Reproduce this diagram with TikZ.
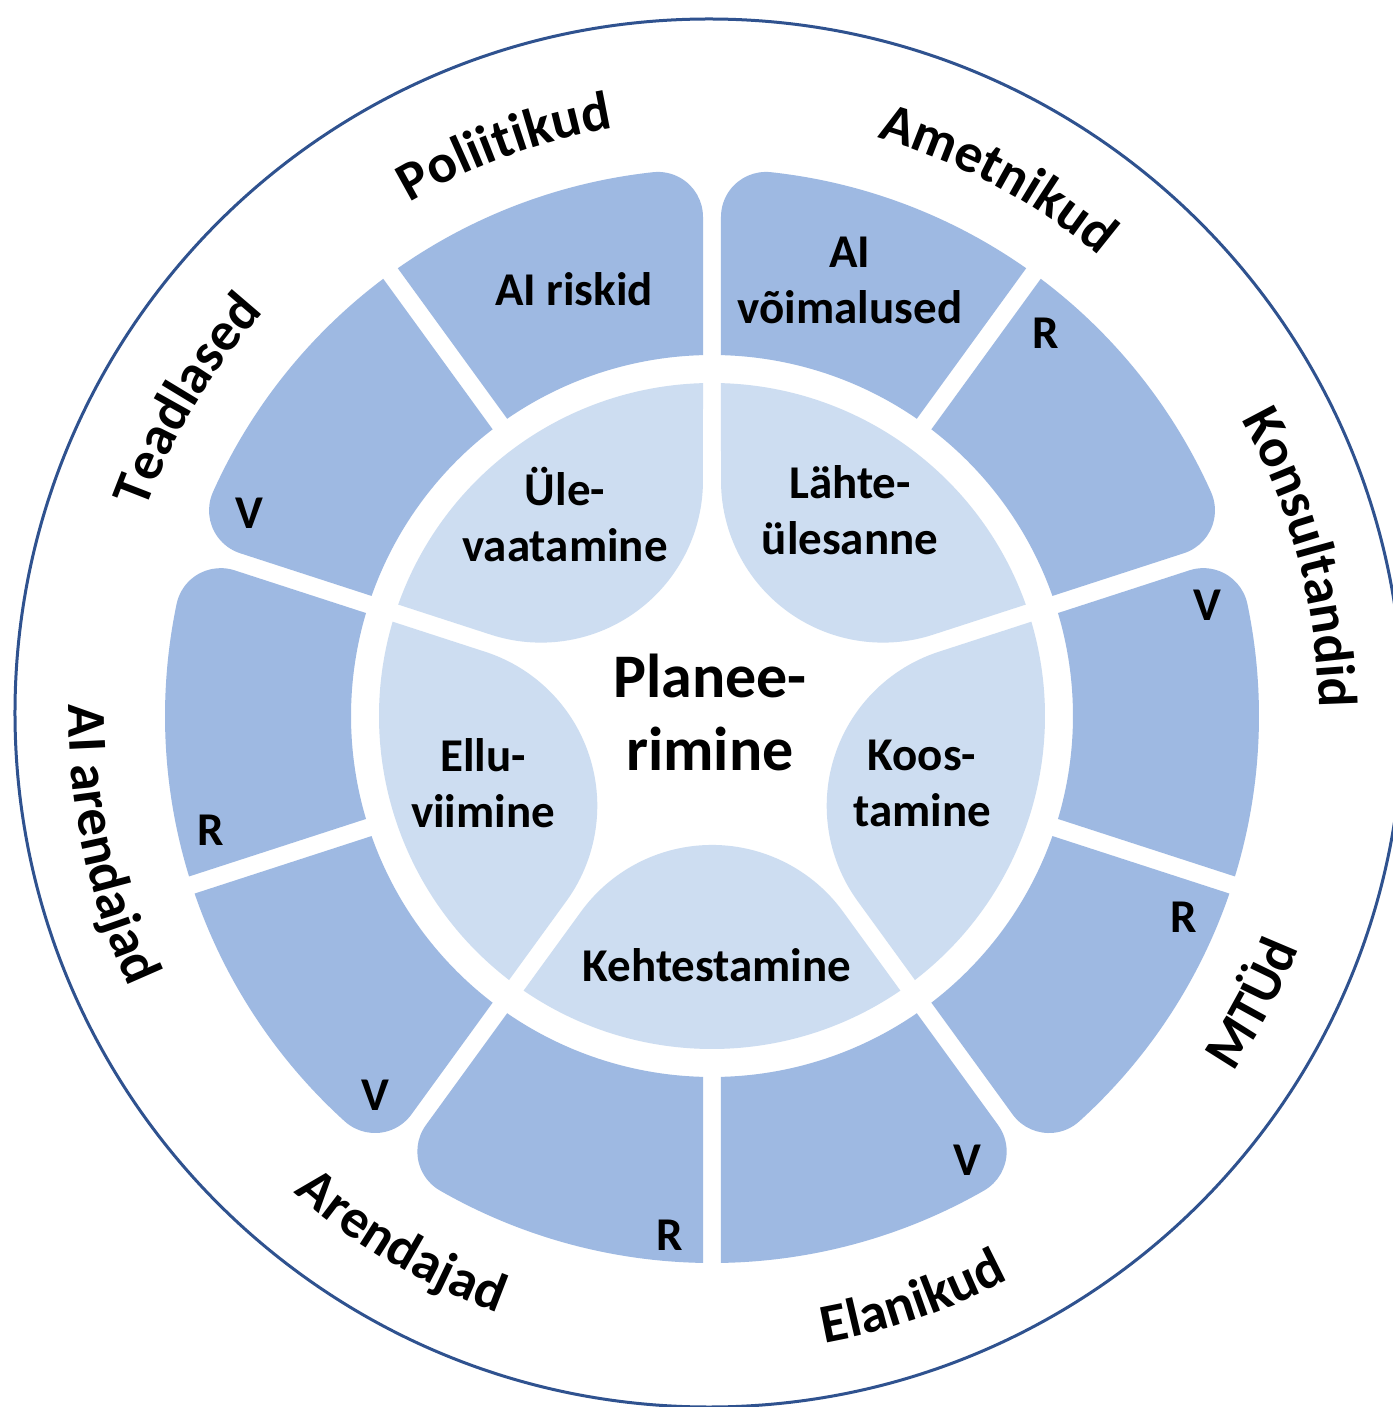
\documentclass[tikz,border=0pt]{standalone}
\usepackage{fontspec}
\setmainfont{Carlito}
\usetikzlibrary{decorations.text}
\definecolor{darkseg}{RGB}{158,185,226}
\definecolor{lightseg}{RGB}{205,221,241}
\definecolor{ringline}{RGB}{47,82,143}
\newcommand\segfont{\fontsize{47}{56}\selectfont\bfseries}
\newcommand\labfont{\fontsize{55}{66}\selectfont\bfseries}
\newcommand\ctrfont{\fontsize{62}{73}\selectfont\bfseries}
% dark segment [a,a+36], rounded outer corner at start edge
\newcommand\dsegStart[1]{%
  \pgfmathsetmacro\dsAin{#1+asin(9/361)}%
  \pgfmathsetmacro\dsBin{#1+36-asin(9/361)}%
  \pgfmathsetmacro\dsBout{#1+36-asin(9/547)}%
  \pgfmathsetmacro\dsPhi{#1+asin(54/502)}%
  \pgfmathsetmacro\dsAl{502*cos(asin(54/502))}%
  \pgfmathsetmacro\dsTx{\dsAl*cos(#1)-9*sin(#1)}%
  \pgfmathsetmacro\dsTy{\dsAl*sin(#1)+9*cos(#1)}%
  \pgfmathsetmacro\dsSt{#1-90}%
  \fill[darkseg] (\dsAin:361) -- (\dsTx,\dsTy)
    arc[start angle=\dsSt, end angle=\dsPhi, radius=45]
    arc[start angle=\dsPhi, end angle=\dsBout, radius=547]
    -- (\dsBin:361)
    arc[start angle=\dsBin, end angle=\dsAin, radius=361] -- cycle;
}
% dark segment [a,a+36], rounded outer corner at end edge
\newcommand\dsegEnd[1]{%
  \pgfmathsetmacro\dsAin{#1+asin(9/361)}%
  \pgfmathsetmacro\dsAout{#1+asin(9/547)}%
  \pgfmathsetmacro\dsBin{#1+36-asin(9/361)}%
  \pgfmathsetmacro\dsPhi{#1+36-asin(54/502)}%
  \pgfmathsetmacro\dsEn{#1+36+90}%
  \fill[darkseg] (\dsAin:361) -- (\dsAout:547)
    arc[start angle=\dsAout, end angle=\dsPhi, radius=547]
    arc[start angle=\dsPhi, end angle=\dsEn, radius=45]
    -- (\dsBin:361)
    arc[start angle=\dsBin, end angle=\dsAin, radius=361] -- cycle;
}
% light segment [a,a+72], inner apex rounded
\newcommand\lseg[1]{%
  \pgfmathsetmacro\lsAo{#1+asin(9/333)}%
  \pgfmathsetmacro\lsBo{#1+72-asin(9/333)}%
  \pgfmathsetmacro\lsDc{171/sin(36)*cos(36)}%
  \pgfmathsetmacro\lsTx{\lsDc*cos(#1+72)+9*sin(#1+72)}%
  \pgfmathsetmacro\lsTy{\lsDc*sin(#1+72)-9*cos(#1+72)}%
  \pgfmathsetmacro\lsS{#1+72+90}%
  \pgfmathsetmacro\lsE{#1+270}%
  \fill[lightseg] (\lsAo:333) arc[start angle=\lsAo, end angle=\lsBo, radius=333]
    -- (\lsTx,\lsTy)
    arc[start angle=\lsS, end angle=\lsE, radius=162] -- cycle;
}
\tikzset{
  seglabel/.style={font=\segfont, align=center, inner sep=0pt},
  lightlabel/.style={font=\segfont, align=center, inner sep=0pt},
  arclabel/.style={decorate, decoration={text along path, text align=center, text={|\labfont|#1}}},
}
\begin{document}
\begin{tikzpicture}[x=1pt,y=1pt]
\useasboundingbox (-712,-691) rectangle (680,716);
\fill[white] (-712,-691) rectangle (680,716);
\draw[ringline, line width=3pt] (-3,3) circle[radius=694];
% dark ring
\dsegStart{90}
\dsegStart{18}
\dsegStart{-54}
\dsegStart{-126}
\dsegStart{162}
\dsegEnd{54}
\dsegEnd{-18}
\dsegEnd{-90}
\dsegEnd{-162}
\dsegEnd{126}
% light ring
\lseg{90}
\lseg{18}
\lseg{-54}
\lseg{-126}
\lseg{162}
% centre
\node[font=\ctrfont, align=center, inner sep=0pt] (centre) at (-2,4) {Planee-\\rimine};
% light labels
\node[lightlabel] (ule) at (-147,201) {Üle-\\vaatamine};
\node[lightlabel] (lahte) at (138,206) {Lähte-\\ülesanne};
\node[lightlabel] (koos) at (210,-67) {Koos-\\tamine};
\node[lightlabel] (keht) at (5,-249) {Kehtestamine};
\node[lightlabel] (ellu) at (-229,-67) {Ellu-\\viimine};
% dark labels
\node[seglabel] (riskid) at (-138,427) {AI riskid};
\node[seglabel] (voim) at (138,436) {AI\\võimalused};
\node[seglabel] (r1) at (334,383) {R};
\node[seglabel] (v1) at (-463,203) {V};
\node[seglabel] (v2) at (495,111) {V};
\node[seglabel] (r2) at (-501,-114) {R};
\node[seglabel] (r3) at (472,-201) {R};
\node[seglabel] (v3) at (-337,-379) {V};
\node[seglabel] (v4) at (255,-444) {V};
\node[seglabel] (r4) at (-42,-519) {R};
% outer labels (clockwise, letters outward)
\path[arclabel=Poliitikud] (150:596) arc[start angle=150, end angle=70, radius=596];
\path[arclabel=Ametnikud] (102:601) arc[start angle=102, end angle=22, radius=601];
\path[arclabel=Teadlased] (189:603) arc[start angle=189, end angle=109, radius=603];
\path[arclabel=Konsultandid] (55:607) arc[start angle=55, end angle=-25, radius=607];
% outer labels (counter-clockwise, letters inward)
\path[arclabel=MTÜd] (-68:631) arc[start angle=-68, end angle=12, radius=631];
\path[arclabel=Elanikud] (-111:637) arc[start angle=-111, end angle=-31, radius=637];
\path[arclabel=Arendajad] (199.5:634) arc[start angle=199.5, end angle=279.5, radius=634];
\path[arclabel={AI arendajad}] (152:643) arc[start angle=152, end angle=232, radius=643];
\end{tikzpicture}
\end{document}
